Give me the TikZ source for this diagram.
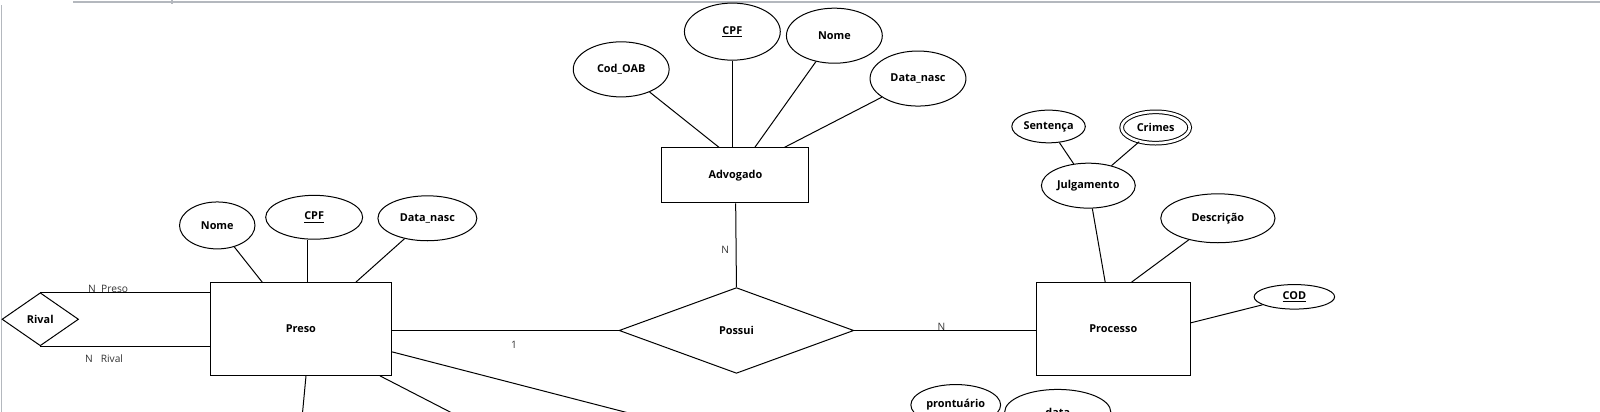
\documentclass[tikz,border=0pt]{standalone}
\usepackage{fontspec}
\setmainfont{Open Sans}
\usetikzlibrary{shapes.geometric,calc}

\tikzset{every picture/.style={line width=0.75pt}}

\begin{document}
\begin{tikzpicture}[x=0.765pt,y=0.765pt,yscale=-1,xscale=1,
  entidade/.style={draw, rectangle, inner sep=0pt, font=\bfseries\fontsize{8.16}{9}\selectfont},
  atributo/.style={draw, ellipse, inner sep=0pt, font=\bfseries\fontsize{8.16}{9}\selectfont},
  relacao/.style={draw, diamond, inner sep=0pt, font=\bfseries\fontsize{8.16}{9}\selectfont},
  rotulo/.style={inner sep=0.75pt, text=black!80, font=\fontsize{7.65}{9}\selectfont},
  moldura/.style={draw={rgb,255:red,180;green,184;blue,190}, line width=1.1pt}]
\useasboundingbox (0,0) rectangle (1568.63,402.94);

%Frame of the screenshot
\draw [moldura] (71.6,2) -- (1600,2) ;
\draw [moldura] (168.6,0) -- (168.6,4) ;
\draw [moldura] (1.5,5) -- (1.5,411) ;

%Entities
\node [entidade, minimum width=110.2pt, minimum height=41.3pt] (advogado) at (721,172) {Advogado};
\node [entidade, minimum width=136.2pt, minimum height=69.6pt] (preso) at (295,322.5) {Preso};
\node [entidade, minimum width=115.5pt, minimum height=69.6pt] (processo) at (1091.5,322.5) {Processo};

%Relationships
\node [relacao, minimum width=176pt, minimum height=64.3pt] (possui) at (722,324) {Possui};
\node [relacao, minimum width=57.4pt, minimum height=39.8pt] (rival) at (39.5,313) {Rival};

%Attributes of Advogado
\node [atributo, minimum width=71.9pt, minimum height=41.3pt] (codOAB) at (609,68) {Cod\_OAB};
\node [atributo, minimum width=71.9pt, minimum height=42.8pt] (cpfA) at (718,31) {\underline{CPF}};
\node [atributo, minimum width=71.9pt, minimum height=41.3pt] (nomeA) at (818,35) {Nome};
\node [atributo, minimum width=71.9pt, minimum height=41.3pt] (dataA) at (900,77) {Data\_nasc};

%Attributes of Preso
\node [atributo, minimum width=56.6pt, minimum height=35.2pt] (nomeP) at (213,221) {Nome};
\node [atributo, minimum width=72.7pt, minimum height=32.9pt] (cpfP) at (308,213) {\underline{CPF}};
\node [atributo, minimum width=74.2pt, minimum height=33.7pt] (dataP) at (419,214) {Data\_nasc};

%Attributes of Processo
\node [atributo, minimum width=60.4pt, minimum height=18.4pt] (cod) at (1269,291) {\underline{COD}};
\node [atributo, minimum width=85.7pt, minimum height=36.7pt] (descricao) at (1194,214) {Descrição};
\node [atributo, minimum width=70.4pt, minimum height=33.7pt] (julgamento) at (1067,182) {Julgamento};
\node [atributo, minimum width=55.1pt, minimum height=24.5pt] (sentenca) at (1028,124) {Sentença};
\node [atributo, double, double distance=2pt, minimum width=51pt, minimum height=23.5pt] (crimes) at (1133,125) {Crimes};

%Attributes cut off at the bottom
\node [atributo, minimum width=67.3pt, minimum height=30.6pt] (prontuario) at (937,397) {prontuário};
\node [atributo, minimum width=79.6pt, minimum height=34pt] (data) at (1037,404) {data};
\coordinate (fimA) at (296,411);
\coordinate (fimB) at (455,411);
\coordinate (fimC) at (640,411);

%Connectors
\draw (codOAB) -- ($(advogado.north)+(-16,0)$) ;
\draw (cpfA) -- (cpfA |- advogado.north) ;
\draw (nomeA) -- ($(advogado.north)+(19,0)$) ;
\draw (dataA) -- ($(advogado.north)+(48,0)$) ;
\draw (advogado) -- (possui.north) ;
\draw (preso.east |- possui) -- (possui.west) ;
\draw (possui.east) -- (possui -| processo.west) ;
\draw (nomeP) -- ($(preso.north)+(-38,0)$) ;
\draw (cpfP.south -| preso.north) ++(6.5,0) -- ($(preso.north)+(6.5,0)$) ;
\draw (dataP) -- ($(preso.north)+(54,0)$) ;
\draw (rival.north) -- (rival.north -| preso.west) ;
\draw (rival.south) -- (rival.south -| preso.west) ;
\draw ($(preso.south)+(5,0)$) -- (fimA) ;
\draw ($(preso.south east)+(-12,0)$) -- (fimB) ;
\draw ($(preso.east)+(0,22.5)$) -- (fimC) ;
\draw (julgamento) -- ($(processo.north)+(-8,0)$) ;
\draw (descricao) -- ($(processo.north)+(18,0)$) ;
\draw (cod) -- ($(processo.east)+(0,-6)$) ;
\draw (sentenca) -- (julgamento) ;
\draw (crimes) -- (julgamento) ;

%Cardinalities
\node [rotulo, anchor=west] (cardPreso) at (85,283) {N\ \ Preso};
\node [rotulo, anchor=west] (cardRival) at (82,352) {N\ \ \ Rival};
\node [rotulo] (cardAdv) at (711,245) {N};
\node [rotulo] (cardProc) at (923,320) {N};
\node [rotulo] (cardPreso1) at (504,338) {1};

\end{tikzpicture}
\end{document}
